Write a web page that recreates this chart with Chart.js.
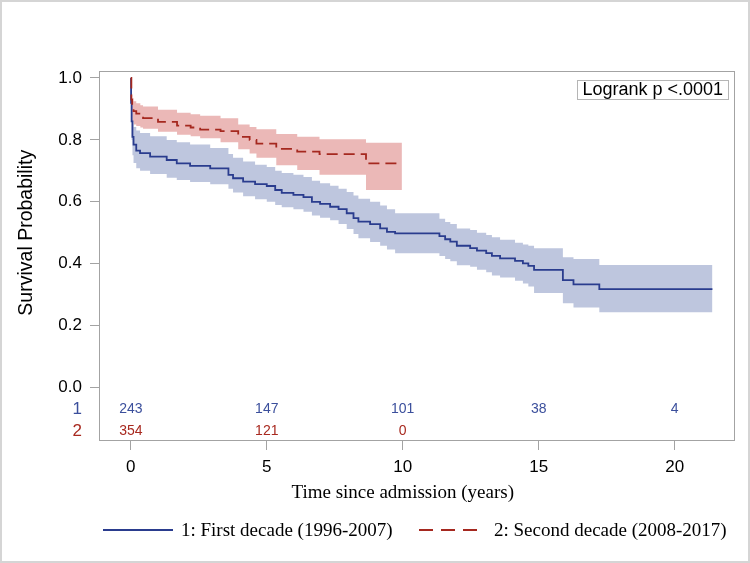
<!DOCTYPE html>
<html><head><meta charset="utf-8">
<script src="https://cdn.jsdelivr.net/npm/chart.js@4.4.1/dist/chart.umd.min.js"></script>
<style>html,body{margin:0;padding:0;background:#fff;}#wrap{width:750px;height:563px;}</style>
</head><body><div id="wrap"><canvas id="c" width="750" height="563"></canvas></div>
<script>
// ---- data ----
// Group 1: First decade
const timeG1 = [0, 0.01, 0.03, 0.06, 0.10, 0.20, 0.34, 0.71, 1.32, 1.69, 2.18, 2.92, 3.59, 3.76, 4.13, 4.57, 5.00, 5.31, 5.55, 5.98, 6.35, 6.66, 6.96, 7.33, 7.64, 7.94, 8.19, 8.37, 8.80, 9.17, 9.42, 9.72, 11.35, 11.56, 11.75, 11.99, 12.48, 12.73, 13.07, 13.28, 13.58, 14.13, 14.42, 14.62, 14.83, 15.89, 16.28, 17.23, 21.39];
const survG1 = [1.000, 0.920, 0.860, 0.810, 0.785, 0.765, 0.757, 0.746, 0.735, 0.724, 0.716, 0.708, 0.687, 0.676, 0.665, 0.657, 0.651, 0.638, 0.629, 0.622, 0.615, 0.600, 0.593, 0.584, 0.576, 0.563, 0.547, 0.536, 0.528, 0.514, 0.503, 0.498, 0.489, 0.479, 0.471, 0.458, 0.450, 0.442, 0.434, 0.425, 0.417, 0.409, 0.401, 0.393, 0.380, 0.347, 0.333, 0.318, 0.318];
const upperG1 = [1.000, 0.950, 0.900, 0.860, 0.842, 0.830, 0.822, 0.812, 0.800, 0.792, 0.785, 0.774, 0.754, 0.742, 0.730, 0.720, 0.712, 0.700, 0.693, 0.687, 0.680, 0.668, 0.660, 0.652, 0.642, 0.632, 0.620, 0.610, 0.600, 0.588, 0.576, 0.563, 0.545, 0.535, 0.528, 0.514, 0.509, 0.500, 0.493, 0.485, 0.477, 0.468, 0.462, 0.458, 0.450, 0.421, 0.415, 0.396, 0.396];
const lowerG1 = [1.000, 0.880, 0.800, 0.750, 0.725, 0.708, 0.700, 0.690, 0.678, 0.670, 0.664, 0.657, 0.642, 0.630, 0.618, 0.608, 0.600, 0.590, 0.582, 0.576, 0.568, 0.556, 0.548, 0.540, 0.528, 0.512, 0.496, 0.482, 0.470, 0.458, 0.446, 0.434, 0.425, 0.415, 0.408, 0.395, 0.390, 0.380, 0.372, 0.362, 0.355, 0.345, 0.336, 0.326, 0.305, 0.272, 0.258, 0.243, 0.243];
// Group 2: Second decade
const timeG2 = [0, 0.02, 0.05, 0.10, 0.20, 0.35, 0.45, 1.00, 1.70, 2.20, 2.55, 3.30, 3.95, 4.37, 4.62, 5.35, 6.12, 6.94, 8.65, 9.97];
const survG2 = [1.000, 0.930, 0.905, 0.893, 0.885, 0.875, 0.870, 0.858, 0.846, 0.840, 0.833, 0.828, 0.810, 0.800, 0.788, 0.771, 0.762, 0.754, 0.724, 0.724];
const upperG2 = [1.000, 0.950, 0.935, 0.925, 0.918, 0.912, 0.908, 0.897, 0.888, 0.883, 0.878, 0.870, 0.850, 0.842, 0.834, 0.819, 0.810, 0.802, 0.791, 0.791];
const lowerG2 = [1.000, 0.880, 0.858, 0.850, 0.845, 0.840, 0.836, 0.826, 0.817, 0.812, 0.805, 0.792, 0.770, 0.756, 0.742, 0.718, 0.703, 0.687, 0.638, 0.638];

const xTickValues = [0, 5, 10, 15, 20];
const yTickValues = [0, 0.2, 0.4, 0.6, 0.8, 1.0];
const riskTimes = [0, 5, 10, 15, 20];
const riskG1 = [243, 147, 101, 38, 4];
const riskG2 = [354, 121, 0];
const groupIds = ['1', '2'];
const legendLabels = ['1: First decade (1996-2007)', '2: Second decade (2008-2017)'];
const pValueText = 'Logrank p <.0001';
const xTitle = 'Time since admission (years)';
const yTitle = 'Survival Probability';

// ---- styling ----
const BLUE = '#2a3c8e', RED = '#a5281f';
const BLUE_BAND = '#bec6de', RED_BAND = '#ebb8b7';
const BLUE_TXT = '#3b4f9c', RED_TXT = '#a8291f';
const SANS = '"Liberation Sans", Arial, sans-serif';
const SERIF = '"Liberation Serif", "Times New Roman", serif';

const pts = (t, s) => t.map((v, i) => ({x: v, y: s[i]}));

const decor = {
  id: 'decor',
  beforeDraw(chart) {
    const ctx = chart.ctx;
    ctx.save(); ctx.fillStyle = '#fff'; ctx.fillRect(0, 0, chart.width, chart.height); ctx.restore();
  },
  afterDraw(chart) {
    const {ctx, chartArea: a, scales: {x, y}} = chart;
    ctx.save();
    // plot frame
    ctx.strokeStyle = '#a3a3a3'; ctx.lineWidth = 1;
    ctx.strokeRect(Math.round(a.left) + 0.5, Math.round(a.top) + 0.5, Math.round(a.right - a.left) - 1, Math.round(a.bottom - a.top) - 1);
    // outer border
    ctx.strokeStyle = '#d5d5d5'; ctx.lineWidth = 2;
    ctx.strokeRect(1, 1, chart.width - 2, chart.height - 2);

    // axis titles
    ctx.fillStyle = '#000'; ctx.textAlign = 'center'; ctx.textBaseline = 'middle';
    ctx.font = '19px ' + SERIF;
    const xMid = (x.getPixelForValue(xTickValues[0]) + x.getPixelForValue(xTickValues[xTickValues.length - 1])) / 2;
    ctx.fillText(xTitle, xMid, 493);
    ctx.save();
    const yMid = (y.getPixelForValue(yTickValues[0]) + y.getPixelForValue(yTickValues[yTickValues.length - 1])) / 2;
    ctx.translate(27, yMid); ctx.rotate(-Math.PI / 2);
    ctx.font = '19.5px ' + SANS;
    ctx.fillText(yTitle, 0, 0);
    ctx.restore();

    // at-risk table
    const y0 = y.getPixelForValue(0);
    const rowY = [y0 + 21.5, y0 + 43.5];
    const rows = [riskG1, riskG2];
    const cols = [BLUE_TXT, RED_TXT];
    ctx.textBaseline = 'middle';
    ctx.font = '14px ' + SANS; ctx.textAlign = 'center';
    rows.forEach((r, k) => {
      ctx.fillStyle = cols[k];
      r.forEach((n, i) => ctx.fillText(String(n), x.getPixelForValue(riskTimes[i]), rowY[k]));
    });
    ctx.font = '17px ' + SANS; ctx.textAlign = 'right';
    groupIds.forEach((g, k) => { ctx.fillStyle = cols[k]; ctx.fillText(g, a.left - 17, rowY[k]); });

    // logrank inset
    ctx.font = '18px ' + SANS;
    const tw = ctx.measureText(pValueText).width;
    const bw = tw + 10, bh = 19;
    const bx = a.right - 7 - bw, by = a.top + 9;
    ctx.fillStyle = '#fff'; ctx.fillRect(bx, by, bw, bh);
    ctx.strokeStyle = '#b5b5b5'; ctx.lineWidth = 1;
    ctx.strokeRect(Math.round(bx) + 0.5, Math.round(by) + 0.5, Math.round(bw), Math.round(bh));
    ctx.fillStyle = '#000'; ctx.textAlign = 'left';
    ctx.fillText(pValueText, bx + 5, by + bh / 2 + 1);

    // bottom legend
    ctx.font = '19px ' + SERIF;
    const cx = (a.left + a.right) / 2;
    const ly = 530;
    ctx.lineWidth = 1.8;
    ctx.strokeStyle = BLUE; ctx.setLineDash([]);
    ctx.beginPath(); ctx.moveTo(cx - 314, ly); ctx.lineTo(cx - 244, ly); ctx.stroke();
    ctx.fillStyle = '#000'; ctx.textBaseline = 'middle'; ctx.textAlign = 'left';
    ctx.fillText(legendLabels[0], cx - 236, ly + 1);
    ctx.strokeStyle = RED; ctx.setLineDash([14, 8]);
    ctx.beginPath(); ctx.moveTo(cx + 2, ly); ctx.lineTo(cx + 61, ly); ctx.stroke();
    ctx.setLineDash([]);
    ctx.fillText(legendLabels[1], cx + 77, ly + 1);
    ctx.restore();
  }
};

new Chart(document.getElementById('c'), {
  type: 'line',
  data: {
    datasets: [
      {label: 'G2', data: pts(timeG2, survG2), borderColor: RED, borderWidth: 1.8, borderDash: [11, 6], stepped: 'before', pointRadius: 0, fill: false},
      {label: 'G1', data: pts(timeG1, survG1), borderColor: BLUE, borderWidth: 1.8, stepped: 'before', pointRadius: 0, fill: false},
      {label: 'G1 lower', data: pts(timeG1, lowerG1), borderWidth: 0, borderColor: 'rgba(0,0,0,0)', stepped: 'before', pointRadius: 0, fill: false},
      {label: 'G1 upper', data: pts(timeG1, upperG1), borderWidth: 0, borderColor: 'rgba(0,0,0,0)', backgroundColor: BLUE_BAND, stepped: 'before', pointRadius: 0, fill: {target: 2}},
      {label: 'G2 lower', data: pts(timeG2, lowerG2), borderWidth: 0, borderColor: 'rgba(0,0,0,0)', stepped: 'before', pointRadius: 0, fill: false},
      {label: 'G2 upper', data: pts(timeG2, upperG2), borderWidth: 0, borderColor: 'rgba(0,0,0,0)', backgroundColor: RED_BAND, stepped: 'before', pointRadius: 0, fill: {target: 4}}
    ]
  },
  options: {
    responsive: false, animation: false, devicePixelRatio: 1,
    layout: {padding: {top: 71, right: 15, bottom: 0, left: 0}},
    plugins: {legend: {display: false}, tooltip: {enabled: false}},
    scales: {
      x: {
        type: 'linear', min: -1.17, max: 22.22,
        afterBuildTicks: s => { s.ticks = xTickValues.map(v => ({value: v})); },
        afterFit: s => { s.height = 122; },
        ticks: {color: '#000', font: {family: SANS, size: 17}, padding: 7, callback: v => String(v), maxRotation: 0},
        grid: {drawOnChartArea: false, drawTicks: true, tickLength: 9, tickColor: '#a3a3a3', tickWidth: 1},
        border: {display: false},
        title: {display: false}
      },
      y: {
        type: 'linear', min: -0.173, max: 1.0226,
        afterBuildTicks: s => { s.ticks = yTickValues.map(v => ({value: v})); },
        afterFit: s => { s.width = 99; },
        ticks: {color: '#000', font: {family: SANS, size: 17}, padding: 8, callback: v => Number(v).toFixed(1)},
        grid: {drawOnChartArea: false, drawTicks: true, tickLength: 9, tickColor: '#a3a3a3', tickWidth: 1},
        border: {display: false},
        title: {display: false}
      }
    }
  },
  plugins: [decor]
});
</script></body></html>
